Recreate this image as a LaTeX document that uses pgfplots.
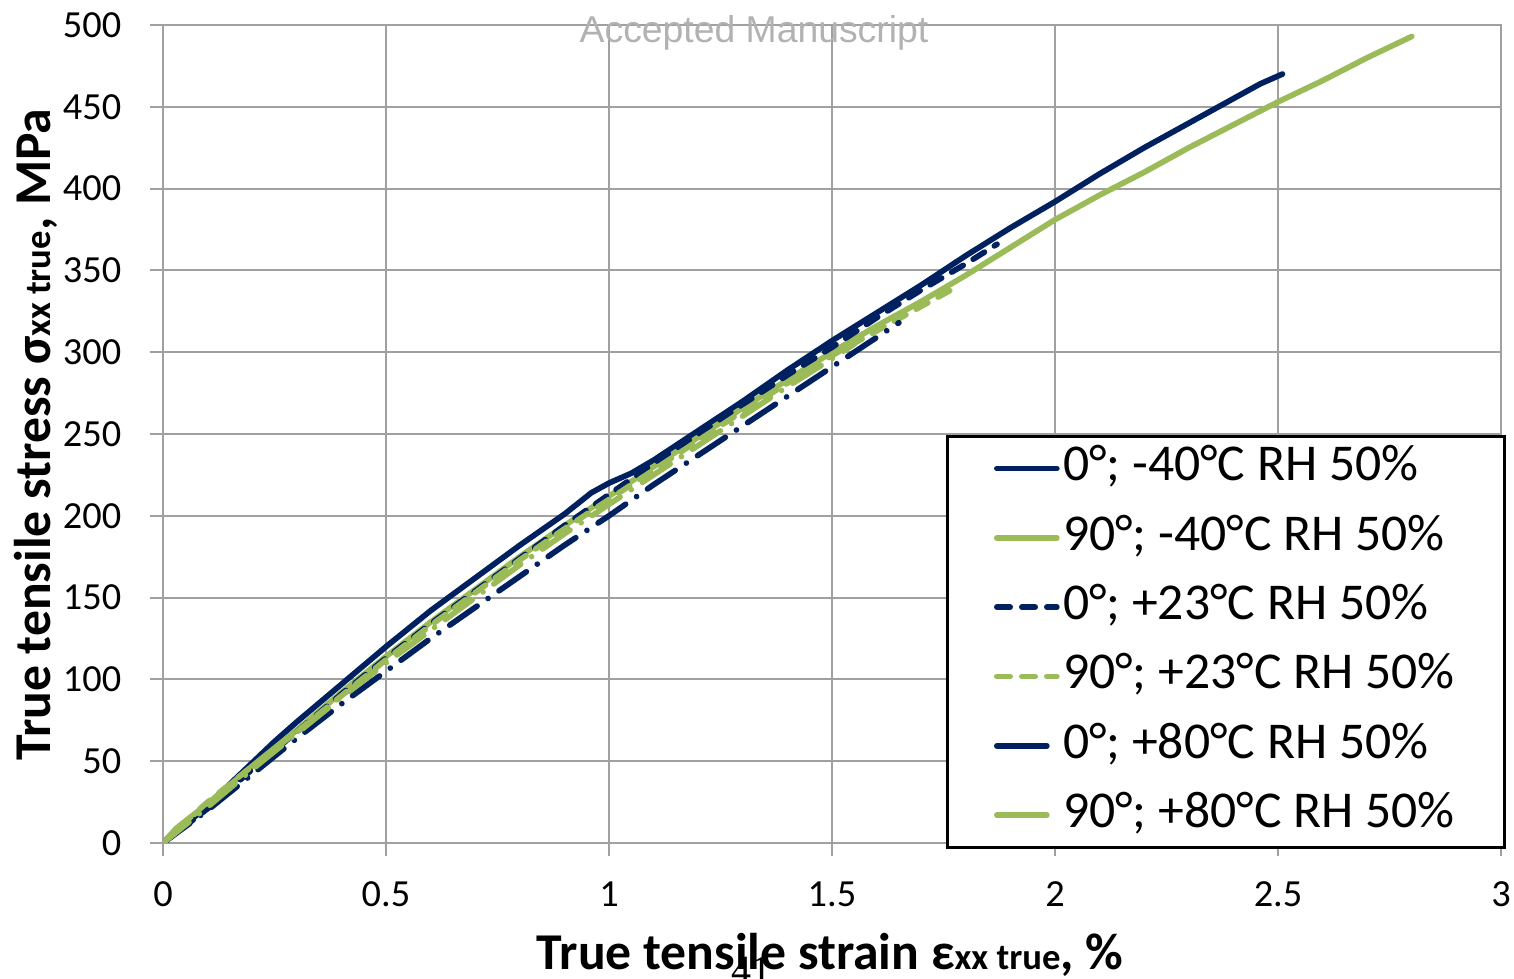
\documentclass[border=0pt]{standalone}
\usepackage{pgfplots}
\pgfplotsset{compat=1.18}
\usepackage{fontspec}
\setmainfont{Carlito}
\newfontfamily\wmfont{Liberation Sans}
\newfontfamily\pgnumfont{Liberation Serif}
\definecolor{navy}{RGB}{0,32,96}
\definecolor{olive}{RGB}{155,187,89}
\definecolor{gridgray}{RGB}{160,160,160}
\pgfplotsset{longlegend/.style={legend image code/.code={\draw[##1, solid] (0pt,0pt) -- (15pt,0pt);}}}
\begin{document}
\begin{tikzpicture}
\begin{axis}[
  scale only axis, width=401.4pt, height=245.4pt,
  xmin=0, xmax=3, ymin=0, ymax=500,
  clip mode=individual,
  xtick={0,0.5,1,1.5,2,2.5,3}, ytick={0,50,...,500},
  xticklabels={0,0.5,1,1.5,2,2.5,3},
  grid=major, major grid style={gridgray, line width=0.6pt},
  axis line style={gridgray, line width=0.6pt},
  tick style={gridgray, line width=0.6pt},
  tick align=outside, major tick length=4pt, tick pos=left,
  /pgf/number format/assume math mode=true,
  ticklabel style={font=\fontsize{11.5}{12}\selectfont, text=black},
  xticklabel style={yshift=-4pt},
  yticklabel style={xshift=-5pt},
  xlabel={\textbf{True tensile strain ε{\fontsize{11}{12}\selectfont xx true}, \%}},
  ylabel={\textbf{True tensile stress σ{\fontsize{11}{12}\selectfont xx true}, MPa}},
  label style={font=\fontsize{15.5}{16}\selectfont},
  xlabel style={at={(axis description cs:0.4985,-0.137)}, anchor=center},
  ylabel style={at={(axis description cs:-0.095,0.499)}, anchor=center},
  legend style={at={(axis description cs:0.5852,0.4988)}, anchor=north west,
    draw=black, line width=0.8pt, fill=white, inner xsep=14pt, inner ysep=1.4pt,
    font=\fontsize{15.5}{16}\selectfont, row sep=4.3pt,
    nodes={inner sep=1pt, text height=11pt, text depth=3.5pt}},
  legend cell align=left,
  legend image code/.code={\draw[#1] (0pt,0pt) -- (18pt,0pt);},
  every axis plot/.append style={line width=1.7pt, line join=round},
]
\addplot[navy, line cap=round] coordinates {
(0,0) (0.05,11) (0.1,23) (0.15,36) (0.2,49) (0.25,62) (0.3,74) (0.4,97) (0.5,120)
(0.6,142) (0.7,162) (0.8,182) (0.9,201) (0.96,214) (1.0,220) (1.05,226) (1.1,234)
(1.2,252) (1.3,270) (1.4,289) (1.5,307) (1.6,324) (1.7,341) (1.8,359) (1.9,376)
(2.0,392) (2.1,409) (2.2,425) (2.3,440) (2.36,449) (2.42,458) (2.46,464) (2.51,470)};
\addlegendentry{0°; -40°C RH 50\%}
\addplot[olive, line cap=round] coordinates {
(0,0) (0.03,9) (0.1,24) (0.2,47) (0.3,69) (0.4,92) (0.5,114) (0.6,135) (0.7,155)
(0.8,175) (0.9,194) (1.0,212) (1.1,230) (1.2,248) (1.3,266) (1.4,283) (1.5,300)
(1.6,316) (1.7,331) (1.8,347) (1.9,364) (2.0,381) (2.1,396) (2.2,410) (2.3,425)
(2.4,439) (2.5,453) (2.6,466) (2.7,480) (2.8,493)};
\addlegendentry{90°; -40°C RH 50\%}
\addplot[navy, line cap=round, dash pattern=on 4pt off 3.5pt] coordinates {
(0,0) (0.1,21) (0.2,45) (0.3,68) (0.4,91) (0.5,113) (0.6,134) (0.7,154) (0.8,174)
(0.9,194) (1.0,213) (1.1,232) (1.2,250) (1.3,268) (1.4,286) (1.5,303) (1.6,321)
(1.7,338) (1.8,354) (1.87,366)};
\addlegendentry{0°; +23°C RH 50\%}
\addplot[olive, line cap=round, dash pattern=on 4pt off 3.5pt] coordinates {
(0,0) (0.05,13) (0.1,25) (0.2,47) (0.3,68) (0.4,90) (0.5,112) (0.6,133) (0.7,153)
(0.8,173) (0.9,192) (1.0,210) (1.1,228) (1.2,246) (1.3,264) (1.4,281) (1.5,298)
(1.6,313) (1.7,328) (1.78,340)};
\addlegendentry{90°; +23°C RH 50\%}
\addplot[navy, line cap=round, dash pattern=on 10pt off 4pt on 0.01pt off 4pt, longlegend] coordinates {
(0,0) (0.1,20) (0.2,42) (0.3,64) (0.4,85) (0.5,105) (0.6,125) (0.7,144) (0.8,163)
(0.9,182) (1.0,200) (1.1,219) (1.2,237) (1.3,255) (1.4,273) (1.5,291) (1.6,309)
(1.65,318)};
\addlegendentry{0°; +80°C RH 50\%}
\addplot[olive, line cap=round, dash pattern=on 10pt off 4pt on 0.01pt off 4pt, longlegend] coordinates {
(0,0) (0.1,22) (0.2,45) (0.3,67) (0.4,89) (0.5,110) (0.6,130) (0.7,150) (0.8,170)
(0.9,189) (1.0,207) (1.1,225) (1.2,243) (1.3,261) (1.4,279) (1.5,296) (1.55,305)};
\addlegendentry{90°; +80°C RH 50\%}
\node[font=\wmfont\fontsize{11.2}{12}\selectfont, text=black!30, anchor=base]
  at (axis description cs:0.4417,0.978) {Accepted Manuscript};
\node[font=\pgnumfont\fontsize{12}{12}\selectfont, anchor=north, inner sep=0pt]
  at (axis description cs:0.4402,-0.139) {41};
\end{axis}
\pgfresetboundingbox
\path[use as bounding box] (-48.9pt,-40.8pt) rectangle (405.3pt,252.9pt);
\end{tikzpicture}
\end{document}
